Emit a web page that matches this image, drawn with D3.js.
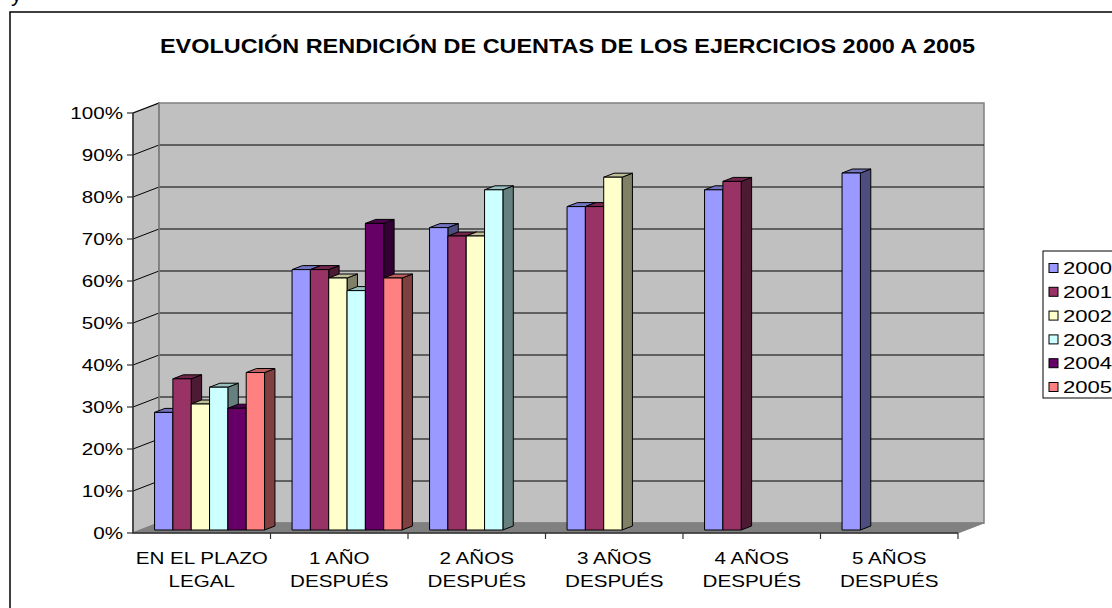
<!DOCTYPE html>
<html>
<head>
<meta charset="utf-8">
<script src="https://cdn.jsdelivr.net/npm/d3@7"></script>
<style>
  html, body { margin: 0; padding: 0; background: #fff; }
  svg { display: block; font-family: "Liberation Sans", Arial, sans-serif; }
</style>
</head>
<body>
<svg id="chart" width="1112" height="608"></svg>
<script>
// ---------- data ----------
const title = "EVOLUCIÓN RENDICIÓN DE CUENTAS DE LOS EJERCICIOS 2000 A 2005";
const categories = ["EN EL PLAZO\nLEGAL", "1 AÑO\nDESPUÉS", "2 AÑOS\nDESPUÉS", "3 AÑOS\nDESPUÉS", "4 AÑOS\nDESPUÉS", "5 AÑOS\nDESPUÉS"];
const seriesNames = ["2000", "2001", "2002", "2003", "2004", "2005"];
const s2000 = [28, 62, 72, 77, 81, 85];
const s2001 = [36, 62, 70, 77, 83, null];
const s2002 = [30, 60, 70, 84, null, null];
const s2003 = [34, 57, 81, null, null, null];
const s2004 = [29, 73, null, null, null, null];
const s2005 = [37.5, 60, null, null, null, null];
const seriesValues = [s2000, s2001, s2002, s2003, s2004, s2005];
const yTicks = [0, 10, 20, 30, 40, 50, 60, 70, 80, 90, 100];
const yTickLabels = ["0%", "10%", "20%", "30%", "40%", "50%", "60%", "70%", "80%", "90%", "100%"];

// ---------- style ----------
const frontColors = ["#9999FF", "#993366", "#FFFFCC", "#CCFFFF", "#660066", "#FF8080"];
const sideColors  = ["#4D4D80", "#4D1A33", "#808066", "#668080", "#330033", "#804040"];
const topColors   = ["#7373BF", "#73264D", "#BFBF99", "#99BFBF", "#4D004D", "#BF6060"];
const SX = 1.25; // horizontal text stretch

const svg = d3.select("#chart");

// stray glyph from text above the frame (visible in the reference)
svg.append("text").attr("x", 11).attr("y", 1).attr("font-size", 22).attr("fill", "#000").text("y");

// outer frame
svg.append("rect").attr("x", 10).attr("y", 12).attr("width", 1120).attr("height", 620)
  .attr("fill", "#fff").attr("stroke", "#000").attr("stroke-width", 1.5);

// ---------- scales ----------
const x = d3.scaleBand().domain(categories).range([133, 958]).paddingInner(0).paddingOuter(0);
const xs = d3.scaleBand().domain(seriesNames).range([0, x.bandwidth()]).paddingInner(0).paddingOuter(0.75);
const y = d3.scaleLinear().domain([0, 100]).range([533, 113]);
const DX = 26, DY = 10;
function P(px, v, z) { return [px + z * DX, y(v) - z * DY]; }
const line = d3.line();
function poly(pts) { return line(pts) + "Z"; }

const x0 = x.range()[0], x1 = x.range()[1];

// ---------- walls ----------
svg.append("path").attr("d", poly([P(x0, 0, 0), P(x0, 0, 1), P(x0, 100, 1), P(x0, 100, 0)]))
  .attr("fill", "#C0C0C0").attr("stroke", "#808080").attr("stroke-width", 1.5);
svg.append("path").attr("d", poly([P(x0, 0, 1), P(x1, 0, 1), P(x1, 100, 1), P(x0, 100, 1)]))
  .attr("fill", "#C0C0C0").attr("stroke", "#808080").attr("stroke-width", 1.5);
svg.append("path").attr("d", poly([P(x0, 0, 0), P(x1, 0, 0), P(x1, 0, 1), P(x0, 0, 1)]))
  .attr("fill", "#808080").attr("stroke", "#808080").attr("stroke-width", 1);

// gridlines
const grid = svg.append("g");
yTicks.filter(t => t > 0 && t < 100).forEach(t => {
  grid.append("path").attr("d", line([P(x0, t, 1), P(x1, t, 1)])).attr("stroke", "#000").attr("stroke-width", 1.2).attr("fill", "none");
});
yTicks.filter(t => t > 0).forEach(t => {
  grid.append("path").attr("d", line([P(x0, t, 0), P(x0, t, 1)])).attr("stroke", "#000").attr("stroke-width", 1).attr("fill", "none");
});
svg.append("path").attr("d", line([P(x0, 0, 1), P(x0, 100, 1)])).attr("stroke", "#808080").attr("stroke-width", 1.5);

// ---------- bars ----------
const Z0 = 0.3, Z1 = 0.7;
const bars = svg.append("g");
categories.forEach((c, ci) => {
  seriesNames.forEach((s, si) => {
    const v = seriesValues[si][ci];
    if (v == null) return;
    const bx = x(c) + xs(s), bw = xs.bandwidth();
    const g = bars.append("g").attr("stroke", "#000").attr("stroke-width", 1).attr("stroke-linejoin", "round");
    g.append("path").attr("d", poly([P(bx + bw, 0, Z0), P(bx + bw, 0, Z1), P(bx + bw, v, Z1), P(bx + bw, v, Z0)])).attr("fill", sideColors[si]);
    g.append("path").attr("d", poly([P(bx, v, Z0), P(bx + bw, v, Z0), P(bx + bw, v, Z1), P(bx, v, Z1)])).attr("fill", topColors[si]);
    g.append("path").attr("d", poly([P(bx, 0, Z0), P(bx + bw, 0, Z0), P(bx + bw, v, Z0), P(bx, v, Z0)])).attr("fill", frontColors[si]);
  });
});

// ---------- axes ----------
const axisColor = "#333";
svg.append("line").attr("x1", x0).attr("x2", x0).attr("y1", y(100)).attr("y2", y(0)).attr("stroke", axisColor).attr("stroke-width", 1.5);
yTicks.forEach((t, i) => {
  svg.append("line").attr("x1", x0 - 6).attr("x2", x0).attr("y1", y(t)).attr("y2", y(t)).attr("stroke", axisColor).attr("stroke-width", 1.2);
  svg.append("text").attr("transform", `translate(${x0 - 10},${y(t)}) scale(${SX},1)`)
    .attr("text-anchor", "end").attr("dy", "0.36em").attr("font-size", 16.5).attr("fill", "#000").text(yTickLabels[i]);
});
svg.append("line").attr("x1", x0).attr("x2", x1).attr("y1", y(0)).attr("y2", y(0)).attr("stroke", axisColor).attr("stroke-width", 1.5);
categories.forEach((c, i) => {
  svg.append("line").attr("x1", x(c) + x.bandwidth()).attr("x2", x(c) + x.bandwidth()).attr("y1", y(0)).attr("y2", y(0) + 6).attr("stroke", axisColor).attr("stroke-width", 1.2);
  const t = svg.append("text").attr("transform", `translate(${x(c) + x.bandwidth() / 2},564) scale(${SX},1)`)
    .attr("text-anchor", "middle").attr("font-size", 16.5).attr("fill", "#000");
  c.split("\n").forEach((ln, li) => {
    t.append("tspan").attr("x", 0).attr("y", li * 23).text(ln);
  });
});

// ---------- title ----------
svg.append("text").attr("x", 567.5).attr("y", 53).attr("text-anchor", "middle")
  .attr("font-size", 20).attr("font-weight", "bold").attr("fill", "#000")
  .attr("textLength", 815).attr("lengthAdjust", "spacingAndGlyphs").text(title);

// ---------- legend ----------
const lg = svg.append("g");
lg.append("rect").attr("x", 1043).attr("y", 251).attr("width", 120).attr("height", 147)
  .attr("fill", "#fff").attr("stroke", "#000").attr("stroke-width", 1);
const ly = d3.scalePoint().domain(seriesNames).range([268, 387]);
seriesNames.forEach((s, i) => {
  lg.append("rect").attr("x", 1049).attr("y", ly(s) - 4.5).attr("width", 9).attr("height", 9)
    .attr("fill", frontColors[i]).attr("stroke", "#000").attr("stroke-width", 1);
  lg.append("text").attr("transform", `translate(1063,${ly(s)}) scale(1.3,1)`)
    .attr("dy", "0.36em").attr("font-size", 17).attr("fill", "#000").text(s);
});
</script>
</body>
</html>
